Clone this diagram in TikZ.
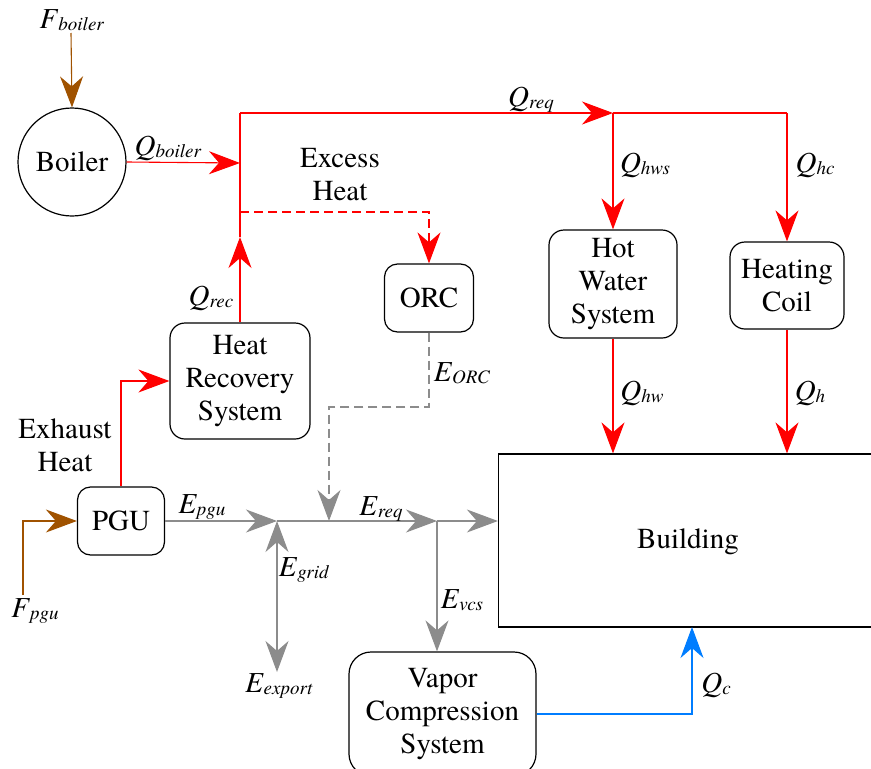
\documentclass[tikz,border=0pt]{standalone}
\usepackage{fontspec}
\setmainfont{texgyretermes}[Extension=.otf, UprightFont=*-regular, ItalicFont=*-italic, BoldFont=*-bold, BoldItalicFont=*-bolditalic]
\usetikzlibrary{arrows.meta,calc}
\definecolor{hotred}{RGB}{255,0,0}
\definecolor{elgrey}{RGB}{140,140,140}
\definecolor{fuelbrown}{RGB}{160,82,0}
\definecolor{coolblue}{RGB}{0,125,255}
\newcommand{\lab}[2]{\textit{#1}\raisebox{-2pt}{\fontsize{19}{19}\selectfont\textit{#2}}}
\tikzset{
  x=1pt, y=-1pt,
  every node/.style={font=\fontsize{29}{33}\selectfont, inner sep=0pt},
  box/.style={draw=black, line width=1.2pt, rounded corners=15pt, align=center},
  tip/.style={-{Stealth[length=31pt,width=23pt,inset=10pt]}},
  heat/.style={draw=hotred, line width=1.1pt},
  elec/.style={draw=elgrey, line width=1.1pt},
  fuel/.style={draw=fuelbrown, line width=1.1pt},
  cool/.style={draw=coolblue, line width=1.1pt},
  flowlab/.style={anchor=center}
}
\begin{document}
\begin{tikzpicture}
\useasboundingbox (0,0) rectangle (871,769);
% nodes
\node[draw=black, line width=1.2pt, circle, minimum size=108pt] (boiler) at (72,162) {Boiler};
\node[box, minimum width=140pt, minimum height=116pt] (hrs) at (240,381) {Heat\\Recovery\\System};
\node[box, rounded corners=13pt, minimum width=89pt, minimum height=68pt] (orc) at (429,298) {ORC};
\node[box, minimum width=128pt, minimum height=108pt] (hws) at (613,284) {Hot\\Water\\System};
\node[box, minimum width=114pt, minimum height=87pt] (hc) at (787,285.5) {Heating\\Coil};
\node[box, rounded corners=13pt, minimum width=87pt, minimum height=68pt] (pgu) at (121,521) {PGU};
\node[box, rounded corners=22pt, minimum width=187pt, minimum height=124pt] (vcs) at (442.5,714) {Vapor\\Compression\\System};
\node[draw=black, line width=1.2pt, minimum width=375pt, minimum height=173pt] (bld) at (686,540.5) {};
\node at (688,542) {Building};
\node at (340,175) [align=center] {Excess\\Heat};
\node at (65,445) [align=center] {Exhaust\\Heat};
% junction coordinates
\coordinate (fb) at (71,33);
\coordinate (jtop) at (240,113);
\coordinate (jq) at (240,163);
\coordinate (jd) at (240,212);
\coordinate (jr) at (240,237);
\coordinate (jhw) at (613,113);
\coordinate (jhc) at (787,113);
\coordinate (fp) at (23,595);
\coordinate (je1) at (277,521);
\coordinate (je3) at (329,521);
\coordinate (je2) at (437,521);
\coordinate (ex) at (277,672);
\coordinate (jo) at (429,407);
\coordinate (bq) at (692,627);
% fuel
\draw[fuel, tip] (fb) -- (boiler.north);
\draw[fuel, tip] (fp) |- (pgu.west);
% heat
\draw[heat, tip] (boiler.east) -- (jq);
\draw[heat, tip] (hrs.north) -- (jr);
\draw[heat] (jr) -- (jtop);
\draw[heat, tip] (jtop) -- (jhw);
\draw[heat] (jhw) -- (jhc);
\draw[heat, tip] (jhw) -- (hws.north);
\draw[heat, tip] (jhc) -- (hc.north);
\draw[heat, tip, dash pattern=on 9pt off 5pt] (jd) -| (orc.north);
\draw[heat, tip] (pgu.north) |- (hrs.west);
\draw[heat, tip] (hws.south) -- (hws.south |- bld.north);
\draw[heat, tip] (hc.south) -- (hc.south |- bld.north);
% electricity
\draw[elec, tip] (pgu.east) -- (je1);
\draw[elec, tip] (je1) -- (je2);
\draw[elec, tip] (je2) -- (je2 -| bld.west);
\draw[elec, tip, dash pattern=on 9pt off 5pt] (orc.south) -- (jo) -| (je3);
\draw[elec, {Stealth[length=31pt,width=23pt,inset=10pt]}-{Stealth[length=31pt,width=23pt,inset=10pt]}] (je1) -- (ex);
\draw[elec, tip] (je2) -- (je2 |- vcs.north);
% cooling
\draw[cool, tip] (vcs.east) -| (bq);
% labels
\node[flowlab] at (72,20) {\lab{F}{boiler}};
\node[flowlab] at (168,148) {\lab{Q}{boiler}};
\node[flowlab] at (531,100) {\lab{Q}{req}};
\node[flowlab] at (645,165) {\lab{Q}{hws}};
\node[flowlab] at (815,165) {\lab{Q}{hc}};
\node[flowlab] at (211,298) {\lab{Q}{rec}};
\node[flowlab] at (462,373) {\lab{E}{ORC}};
\node[flowlab] at (642,393) {\lab{Q}{hw}};
\node[flowlab] at (810,393) {\lab{Q}{h}};
\node[flowlab] at (202,507) {\lab{E}{pgu}};
\node[flowlab] at (381,509) {\lab{E}{req}};
\node[flowlab] at (304,570) {\lab{E}{grid}};
\node[flowlab] at (462,600) {\lab{E}{vcs}};
\node[flowlab] at (279,686) {\lab{E}{export}};
\node[flowlab] at (35,611) {\lab{F}{pgu}};
\node[flowlab] at (716,685) {\lab{Q}{c}};
\end{tikzpicture}
\end{document}
